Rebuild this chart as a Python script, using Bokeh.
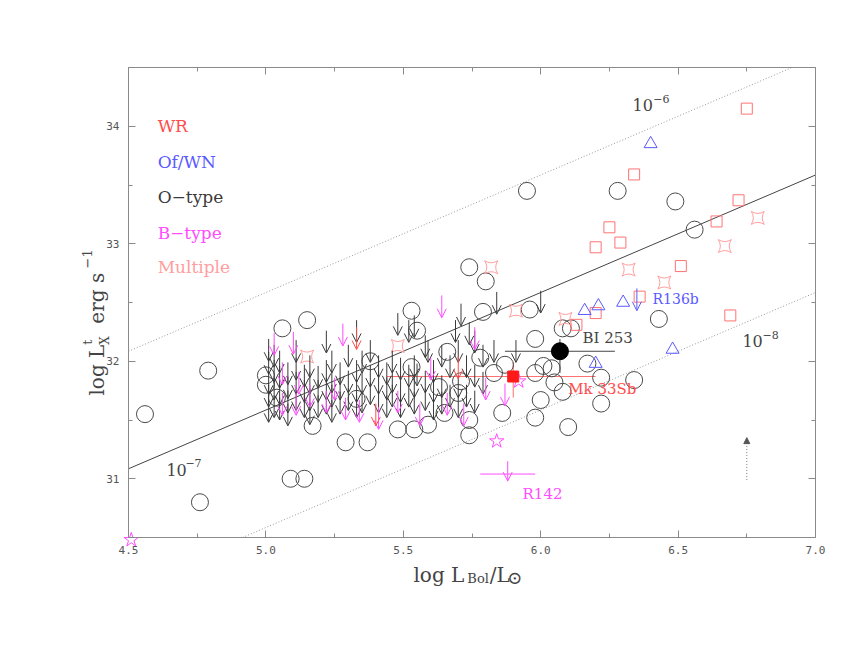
from bokeh.plotting import figure
from bokeh.models import (Label, Arrow, OpenHead, NormalHead, ColumnDataSource,
                          SingleIntervalTicker, LinearAxis, PrintfTickFormatter, Range1d)
from bokeh.embed import file_html
from bokeh.resources import INLINE

# ---------------- data ----------------
LOG_LSUN = 33.585
ratio_exp = [-6, -7, -8]
ratio_style = ["dotted", "solid", "dotted"]
X_LIM = (4.5, 7.0)
Y_LIM = (30.5, 34.5)

# O-type detections (open circles)
o_x = [4.56, 4.79, 4.76, 5.00, 5.00, 5.06, 5.15, 5.09, 5.14, 5.17, 5.29, 5.37, 5.38, 5.53,
       5.55, 5.95, 6.28, 6.49, 6.56, 6.43, 6.34, 6.22, 6.22, 6.17, 6.10, 6.08, 6.08, 6.11,
       5.96, 5.98, 5.74, 5.80, 5.79, 5.78, 5.83, 5.87, 5.98, 6.01, 6.04, 6.05, 6.00, 5.86,
       5.98, 5.74, 5.74, 5.66, 5.53, 5.71, 5.63, 5.70, 5.48, 5.54, 5.59, 5.65, 5.33, 5.04]
o_y = [31.55, 31.92, 30.80, 31.88, 31.80, 32.28, 32.35, 31.00, 31.00, 31.45, 31.31, 31.31,
       32.00, 32.43, 32.26, 33.45, 33.45, 33.36, 33.12, 32.36, 31.84, 31.64, 31.86, 31.98,
       31.44, 31.74, 32.28, 32.28, 32.44, 32.19, 32.80, 32.68, 32.42, 32.03, 31.90, 31.97,
       31.90, 31.96, 31.94, 31.82, 31.67, 31.56, 31.52, 31.50, 31.37, 32.08, 31.95, 31.83,
       31.78, 31.73, 31.42, 31.42, 31.46, 31.56, 31.68, 31.69]

# O-type upper limits (arrows)
o_ul_x = [5.01, 5.01, 5.01, 5.01, 5.01,
          5.03, 5.03, 5.03, 5.03,
          5.05, 5.05, 5.05, 5.05,
          5.08, 5.08, 5.08, 5.08,
          5.11, 5.11, 5.11, 5.11,
          5.14, 5.14, 5.14,
          5.16, 5.16, 5.16, 5.16,
          5.19, 5.19, 5.19,
          5.22, 5.22, 5.22, 5.22,
          5.24, 5.24, 5.24, 5.24,
          5.27, 5.27, 5.27,
          5.30, 5.30, 5.30,
          5.33, 5.33, 5.33, 5.33,
          5.35, 5.35, 5.35,
          5.38, 5.38, 5.38,
          5.41, 5.41, 5.41,
          5.44, 5.44, 5.44,
          5.46, 5.46, 5.46,
          5.49, 5.49, 5.49,
          5.52, 5.52,
          5.54, 5.54, 5.54,
          5.58, 5.58, 5.58,
          5.61, 5.61, 5.61,
          5.64, 5.64, 5.64,
          5.67, 5.67,
          5.70, 5.70, 5.70,
          5.73, 5.73,
          5.76, 5.76, 5.76,
          5.79, 5.79,
          5.83, 5.84, 5.91, 6.00,
          5.48, 5.52, 5.54, 5.71, 5.69, 5.74, 5.59, 5.55]
o_ul_y = [32.19, 32.08, 31.91, 31.80, 31.67,
          32.14, 32.01, 31.86, 31.71,
          32.09, 31.96, 31.82, 31.69,
          31.99, 31.87, 31.75, 31.64,
          32.18, 32.03, 31.91, 31.77,
          31.97, 31.84, 31.71,
          32.05, 31.91, 31.77, 31.65,
          31.96, 31.84, 31.71,
          32.26, 32.01, 31.86, 31.74,
          32.09, 31.92, 31.80, 31.67,
          31.99, 31.86, 31.74,
          32.14, 31.92, 31.77,
          32.35, 32.01, 31.84, 31.71,
          32.09, 31.91, 31.75,
          32.18, 31.97, 31.82,
          32.05, 31.91, 31.75,
          31.99, 31.86, 31.71,
          32.09, 31.92, 31.80,
          32.03, 31.84, 31.71,
          31.97, 31.80,
          32.05, 31.88, 31.74,
          32.22, 31.92, 31.77,
          32.01, 31.84, 31.69,
          32.14, 31.88, 31.74,
          32.05, 31.80,
          32.18, 31.88, 31.71,
          32.05, 31.80,
          32.26, 31.97, 31.75,
          32.14, 31.91,
          32.18, 32.59, 32.18, 32.60,
          32.41, 32.35, 32.39, 32.49, 32.35, 32.33, 32.18, 31.98]

# B-type upper limits and detections
b_ul_x = [5.03, 5.10, 5.28, 5.64, 5.76, 5.60, 5.80, 5.87, 5.56, 5.48, 5.66, 5.72, 5.06,
          5.12, 5.16, 5.25, 5.22, 5.29, 5.34, 5.06, 5.11, 5.41]
b_ul_y = [32.24, 32.25, 32.32, 32.56, 32.29, 32.03, 31.86, 31.81, 31.64, 31.75, 31.73,
          31.64, 31.99, 31.91, 31.80, 31.86, 31.75, 31.69, 31.67, 31.73, 31.73, 31.61]
b_x = [4.51, 5.84, 5.92]
b_y = [30.48, 31.32, 31.83]

# WR detections (squares) and upper limits
wr_x = [6.75, 6.34, 6.25, 6.29, 6.20, 6.72, 6.64, 6.51, 6.36, 6.69, 6.13, 6.20]
wr_y = [34.15, 33.59, 33.14, 33.01, 32.97, 33.37, 33.19, 32.81, 32.55, 32.39, 32.31, 32.41]
wr_ul_x = [5.33, 5.40, 5.70]
wr_ul_y = [32.29, 31.64, 32.04]

# Of/WN detections (triangles) and upper limit
of_x = [6.40, 6.16, 6.21, 6.30, 6.20, 6.48]
of_y = [33.85, 32.43, 32.47, 32.50, 31.98, 32.10]
of_ul_x = [6.35]
of_ul_y = [32.62]

# Multiple systems
mu_x = [6.79, 6.67, 6.45, 6.32, 5.82, 5.91, 6.09, 5.48, 5.15]
mu_y = [33.22, 32.98, 32.67, 32.78, 32.80, 32.43, 32.36, 32.13, 32.04]

# Named objects
bi253 = dict(x=6.07, y=32.085, x0=5.87, x1=6.27, y0=31.90, y1=32.19)
mk33 = dict(x=5.90, y=31.87, x0=5.44, x1=6.20, y0=31.69, y1=31.99)
r142 = dict(x=5.88, y=31.15, x0=5.78, x1=5.98, ybar=31.04, yend=30.98)
shift_arrow = dict(x=6.75, y0=30.99, y1=31.35)

ARROW_LEN = 0.19

# ---------------- colours ----------------
C_WR = "#ff4d4d"
C_OF = "#5a5aff"
C_O = "#3a3a3a"
C_B = "#ff4dff"
C_MU = "#ff9e9e"
C_AX = "#8a8a8a"
C_TXT = "#444444"
SERIF = "DejaVu Serif"

# ---------------- canvas / frame geometry (pixels) ----------------
W, H = 852, 648
FL, FR, FT, FB = 128, 815, 67, 537
xs_per_px = (X_LIM[1] - X_LIM[0]) / (FR - FL)
ys_per_px = (Y_LIM[1] - Y_LIM[0]) / (FB - FT)
x_range = Range1d(X_LIM[0] - FL * xs_per_px, X_LIM[1] + (W - FR) * xs_per_px)
y_range = Range1d(Y_LIM[0] - (H - FB) * ys_per_px, Y_LIM[1] + FT * ys_per_px)

p = figure(width=W, height=H, x_range=x_range, y_range=y_range,
           output_backend="svg", toolbar_location=None,
           x_axis_location=None, y_axis_location=None, min_border=0)
p.grid.visible = False
p.outline_line_color = None
p.background_fill_color = "white"
p.border_fill_color = "white"


def make_axis(loc, bounds, ticker, fmt, show_labels, standoff):
    ax = LinearAxis(fixed_location=loc, bounds=bounds, ticker=ticker,
                    formatter=PrintfTickFormatter(format=fmt if show_labels else ""))
    ax.major_tick_in = 7
    ax.major_tick_out = 0
    ax.minor_tick_in = 4
    ax.minor_tick_out = 0
    ax.axis_line_color = C_AX
    ax.major_tick_line_color = C_AX
    ax.minor_tick_line_color = C_AX
    ax.major_label_text_font = "DejaVu Sans Mono"
    ax.major_label_text_font_size = "11px"
    ax.major_label_text_color = "#555555"
    ax.major_label_standoff = standoff
    return ax


xt = lambda: SingleIntervalTicker(interval=0.5, num_minor_ticks=2)
yt = lambda: SingleIntervalTicker(interval=1, num_minor_ticks=2)
p.add_layout(make_axis(Y_LIM[0], X_LIM, xt(), "%.1f", True, 8), "below")
p.add_layout(make_axis(Y_LIM[1], X_LIM, xt(), "%.1f", False, 0), "above")
p.add_layout(make_axis(X_LIM[0], Y_LIM, yt(), "%d", True, 9), "left")
p.add_layout(make_axis(X_LIM[1], Y_LIM, yt(), "%d", False, 0), "right")

# ratio lines  log Lx = log Lbol + log Lsun + exponent, cut to the box
for e, st in zip(ratio_exp, ratio_style):
    c = LOG_LSUN + e
    xa = max(X_LIM[0], Y_LIM[0] - c)
    xb = min(X_LIM[1], Y_LIM[1] - c)
    xs = [xa, xb]
    ys = [v + c for v in xs]
    if st == "solid":
        p.line(xs, ys, line_color="#444444", line_width=1)
    else:
        p.line(xs, ys, line_color="#999999", line_width=1, line_dash="1 2")

# error bars
p.segment(x0=[bi253["x0"], bi253["x"]], y0=[bi253["y"], bi253["y0"]],
          x1=[bi253["x1"], bi253["x"]], y1=[bi253["y"], bi253["y1"]], line_color="#444444")
p.segment(x0=[mk33["x0"], mk33["x"]], y0=[mk33["y"], mk33["y0"]],
          x1=[mk33["x1"], mk33["x"]], y1=[mk33["y"], mk33["y1"]], line_color="#ff7070")
p.segment(x0=[r142["x0"]], y0=[r142["ybar"]], x1=[r142["x1"]], y1=[r142["ybar"]], line_color=C_B)

# markers
p.scatter(o_x, o_y, marker="circle", size=17, line_color="#4a4a4a", fill_color=None, line_width=1)
p.scatter(wr_x, wr_y, marker="square", size=11, line_color="#ff7373", fill_color=None)
p.scatter(of_x, of_y, marker="triangle", size=13, line_color=C_OF, fill_color=None)
p.scatter(mu_x, mu_y, marker="square_pin", size=13, line_color=C_MU, fill_color=None)
p.scatter(b_x, b_y, marker="star", size=15, line_color=C_B, fill_color=None)
p.scatter([bi253["x"]], [bi253["y"]], marker="circle", size=17, color="black")
p.scatter([mk33["x"]], [mk33["y"]], marker="square", size=11, color="#ff1a1a")


def add_arrows(xs, ys, color, length=ARROW_LEN):
    src = ColumnDataSource(dict(x=xs, y=ys, ye=[v - length for v in ys]))
    p.add_layout(Arrow(end=OpenHead(size=9, line_color=color, line_width=1),
                       x_start="x", y_start="y", x_end="x", y_end="ye",
                       source=src, line_color=color, line_width=1))


add_arrows(o_ul_x, o_ul_y, C_O)
add_arrows(b_ul_x, b_ul_y, C_B)
add_arrows(wr_ul_x, wr_ul_y, C_WR)
add_arrows(of_ul_x, of_ul_y, C_OF)
add_arrows([r142["x"]], [r142["y"]], C_B, r142["y"] - r142["yend"])

p.add_layout(Arrow(end=NormalHead(size=6, fill_color="#555555", line_color="#555555"),
                   x_start=shift_arrow["x"], y_start=shift_arrow["y0"],
                   x_end=shift_arrow["x"], y_end=shift_arrow["y1"],
                   line_color="#777777", line_dash="1 2"))


def lab(x, y, text, color, size, angle=0.0, font=SERIF):
    p.add_layout(Label(x=x, y=y, text=text, text_color=color, text_font=font,
                       text_font_size=size, text_baseline="middle", text_align="left",
                       angle=angle))


# legend texts
legend_names = ["WR", "Of/WN", "O\u2212type", "B\u2212type", "Multiple"]
legend_cols = [C_WR, C_OF, C_O, C_B, C_MU]
legend_y = [34.0, 33.70, 33.40, 33.09, 32.80]
for n, c, yy in zip(legend_names, legend_cols, legend_y):
    lab(4.606, yy, n, c, "17px")

# object names
lab(6.152, 32.20, "BI 253", C_TXT, "15px")
lab(6.10, 31.76, "Mk 33Sb", C_WR, "15px")
lab(6.407, 32.53, "R136b", C_OF, "14px")
lab(5.934, 30.87, "R142", C_B, "15px")

# ratio labels
for (x10, y10, xe, ye, t) in [(6.334, 34.18, 6.41, 34.23, "\u22126"),
                              (4.638, 31.076, 4.707, 31.13, "\u22127"),
                              (6.734, 32.17, 6.807, 32.22, "\u22128")]:
    lab(x10, y10, "10", C_TXT, "16px")
    lab(xe, ye, t, C_TXT, "11px")

# x axis title
lab(5.537, 30.177, "log L", C_TXT, "20px")
lab(5.733, 30.15, "Bol", C_TXT, "13px")
lab(5.815, 30.177, "/L", C_TXT, "20px")
lab(5.878, 30.16, "\u2299", C_TXT, "18px")

# y axis title (rotated)
ang = 1.5707963
lab(4.387, 31.708, "log L", C_TXT, "20px", ang)
lab(4.349, 32.14, "t", C_TXT, "13px", ang)
lab(4.413, 32.14, "X", C_TXT, "12px", ang)
lab(4.387, 32.32, "erg s", C_TXT, "20px", ang)
lab(4.349, 32.79, "\u22121", C_TXT, "13px", ang)

open("out.html", "w").write(file_html(p, INLINE))
